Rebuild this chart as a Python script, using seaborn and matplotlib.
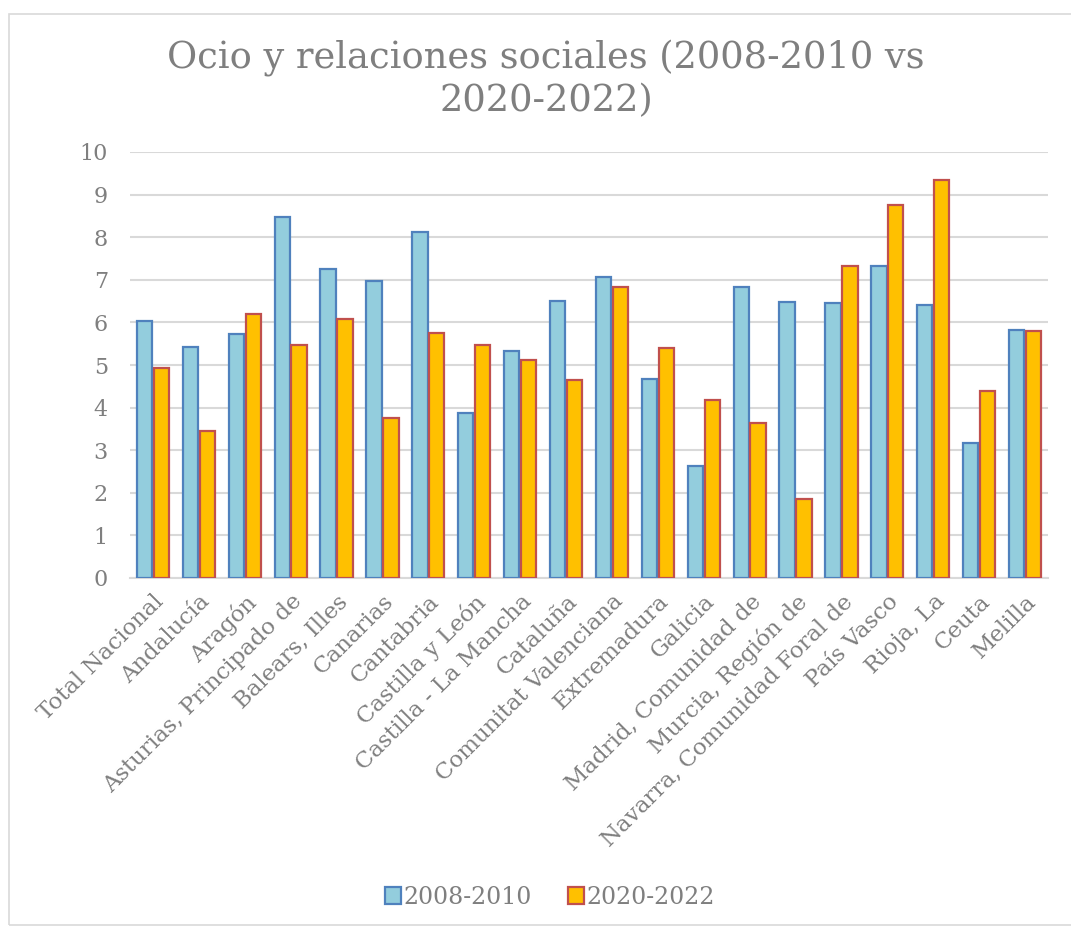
import matplotlib
matplotlib.use("Agg")
import matplotlib.pyplot as plt
import matplotlib.patches as mpatches
import seaborn as sns
import pandas as pd

categories = ["Total Nacional", "Andalucía", "Aragón", "Asturias, Principado de",
              "Balears, Illes", "Canarias", "Cantabria", "Castilla y León",
              "Castilla - La Mancha", "Cataluña", "Comunitat Valenciana",
              "Extremadura", "Galicia", "Madrid, Comunidad de", "Murcia, Región de",
              "Navarra, Comunidad Foral de", "País Vasco", "Rioja, La", "Ceuta", "Melilla"]
serie_2008_2010 = [6.03, 5.43, 5.72, 8.48, 7.26, 6.97, 8.12, 3.87, 5.33, 6.51,
                   7.07, 4.67, 2.64, 6.82, 6.48, 6.46, 7.32, 6.40, 3.17, 5.82]
serie_2020_2022 = [4.94, 3.46, 6.20, 5.47, 6.08, 3.75, 5.74, 5.47, 5.12, 4.64,
                   6.82, 5.39, 4.18, 3.64, 1.85, 7.33, 8.75, 9.34, 4.39, 5.79]
series_names = ["2008-2010", "2020-2022"]
y_ticks = [0, 1, 2, 3, 4, 5, 6, 7, 8, 9, 10]
title = "Ocio y relaciones sociales (2008-2010 vs\n2020-2022)"

df = pd.DataFrame({
    "cat": categories * 2,
    "valor": serie_2008_2010 + serie_2020_2022,
    "periodo": [series_names[0]] * len(categories) + [series_names[1]] * len(categories),
})

sns.set_theme(style="white")
plt.rcParams["font.family"] = ["DejaVu Serif"]

TEXT = "#7f7f7f"
GRID = "#d9d9d9"
fills = ["#93CDDD", "#FFC000"]
edges = ["#4F81BD", "#C0504D"]

fig = plt.figure(figsize=(10.71, 9.27), dpi=100)
ax = fig.add_axes([130 / 1071, 1 - 578 / 927, (1048 - 130) / 1071, (578 - 152) / 927])

sns.barplot(data=df, x="cat", y="valor", hue="periodo", order=categories,
            hue_order=series_names, palette=fills, saturation=1, width=0.74, gap=0.1,
            legend=False, ax=ax, zorder=3)

for cont, ec in zip(ax.containers, edges):
    for p in cont:
        p.set_edgecolor(ec)
        p.set_linewidth(1.6)

ax.set_ylim(0, 10)
ax.set_xlim(-0.5, len(categories) - 0.5)
ax.set_yticks(y_ticks)
ax.yaxis.grid(True, color=GRID, linewidth=1.5, zorder=0)
ax.set_axisbelow(True)
for s in ["top", "right", "left"]:
    ax.spines[s].set_visible(False)
ax.spines["bottom"].set_color(GRID)
ax.spines["bottom"].set_linewidth(1.5)
ax.tick_params(axis="both", length=0, colors=TEXT)
ax.tick_params(axis="y", labelsize=16, pad=16)
ax.set_xticks(range(len(categories)))
ax.set_xticklabels(categories, rotation=45, ha="right", rotation_mode="anchor",
                   fontsize=16.5, color=TEXT)
for lbl in ax.get_yticklabels():
    lbl.set_color(TEXT)
ax.tick_params(axis="x", pad=9)
ax.set_xlabel("")
ax.set_ylabel("")

fig.text(546 / 1071, 1 - 79 / 927, title, ha="center", va="center",
         fontsize=26.5, color=TEXT, linespacing=1.25)

handles = [mpatches.Patch(facecolor=f, edgecolor=e, linewidth=1.6) for f, e in zip(fills, edges)]
fig.legend(handles, series_names, loc="center", bbox_to_anchor=(550 / 1071, 1 - 897 / 927),
           ncol=2, frameon=False, fontsize=17, labelcolor=TEXT,
           handlelength=0.7, handleheight=0.7, handletextpad=0.1, columnspacing=1.5)

border = mpatches.Rectangle((9 / 1071, 2 / 927), 1.2, 911 / 927, transform=fig.transFigure,
                            fill=False, edgecolor="#d9d9d9", linewidth=1.2)
fig.patches.append(border)

fig.savefig("out.png", dpi=100)
